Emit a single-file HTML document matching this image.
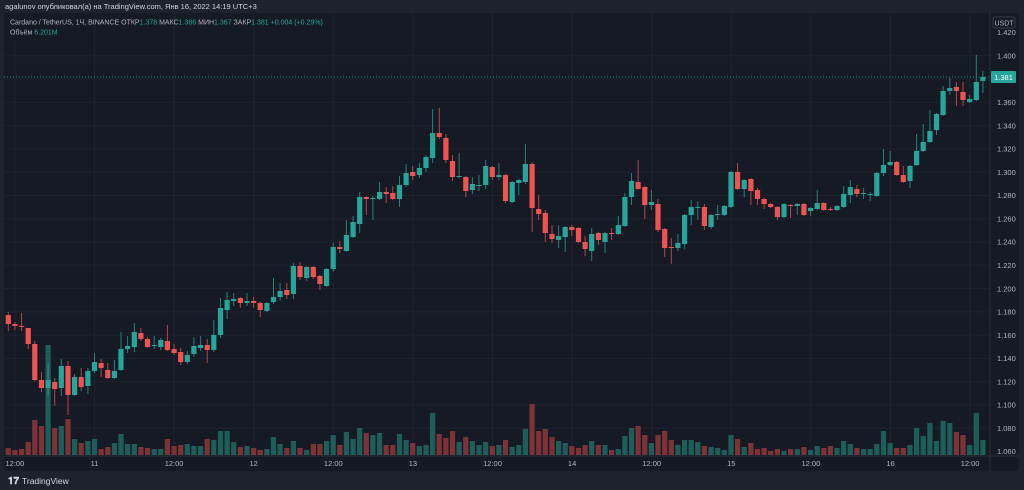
<!DOCTYPE html>
<html><head><meta charset="utf-8">
<style>
html,body{margin:0;padding:0;background:#1e222d;width:1024px;height:490px;overflow:hidden;font-family:"Liberation Sans","DejaVu Sans",sans-serif;}
svg{display:block}
</style></head>
<body>
<svg id="s" width="1024" height="490" xmlns="http://www.w3.org/2000/svg" font-family="Liberation Sans, DejaVu Sans, sans-serif">
<rect x="0" y="0" width="1024" height="490" fill="#1e222d"/>
<rect x="4" y="13" width="1015" height="458" fill="#161a25"/>
<g id="grid"></g>
<g id="vol"></g>
<g id="cand"></g>
<line x1="4" y1="77" x2="990" y2="77" stroke="#26a69a" stroke-width="1" stroke-dasharray="1,2" opacity="0.8"/>
<line x1="990" y1="13" x2="990" y2="471" stroke="#2a2e39"/>
<line x1="4" y1="456" x2="1019" y2="456" stroke="#2a2e39"/>
<g id="axis" font-size="7.5" fill="#b2b5be"></g>
<rect x="993" y="17" width="22" height="11" rx="2" fill="#161a25" stroke="#363a45"/>
<text x="1004" y="25.5" font-size="7" fill="#b2b5be" text-anchor="middle">USDT</text>
<rect x="991" y="71" width="25" height="12" rx="1" fill="#26a69a"/>
<text x="1003.5" y="80" font-size="7.5" fill="#ffffff" text-anchor="middle">1.381</text>
<text x="5" y="9" font-size="7.5" fill="#d1d4dc">agalunov опубликовал(а) на TradingView.com, Янв 16, 2022 14:19 UTC+3</text>
<text x="10" y="24.5" font-size="7" fill="#b2b5be">Cardano / TetherUS, 1Ч, BINANCE  ОТКР<tspan fill="#26a69a">1.378</tspan>  МАКС<tspan fill="#26a69a">1.386</tspan>  МИН<tspan fill="#26a69a">1.367</tspan>  ЗАКР<tspan fill="#26a69a">1.381</tspan>  <tspan fill="#26a69a">+0.004 (+0.29%)</tspan></text>
<text x="10" y="34.5" font-size="7" fill="#b2b5be">Объём  <tspan fill="#26a69a">6.201M</tspan></text>
<text x="8" y="484" font-size="10" font-weight="bold" fill="#d1d4dc">𝟏𝟕</text>
<text x="22" y="484" font-size="8.5" fill="#d1d4dc">TradingView</text>
</svg>
<script>
var C="315,324,312,331,r|324,326,322,330,r|326,327,313,331,r|328,344,328,349,r|344,380,341,381,r|380,388,372,392,r|380,388,363,395,g|382,389,378,406,r|366,388,359,396,g|366,395,361,415,r|377,395,374,396,g|377,387,368,391,r|371,386,368,394,g|362,371,353,373,g|363,368,359,377,r|370,378,363,379,r|371,378,360,379,g|349,370,332,371,g|346,349,336,353,g|332,347,323,352,g|333,339,328,341,r|339,347,337,348,r|345,346,336,349,g|340,347,338,350,g|341,350,325,351,r|349,353,344,355,r|352,362,348,365,r|355,362,351,364,g|346,354,337,357,g|345,348,336,351,g|345,350,339,363,r|335,350,320,352,g|308,335,298,338,g|300,310,292,319,g|299,301,293,306,g|298,303,297,308,r|301,303,293,306,g|301,303,297,308,r|303,310,302,317,r|303,311,302,312,g|297,302,278,304,g|291,297,283,301,g|290,295,283,299,r|266,294,263,299,g|266,277,262,280,r|267,278,266,281,g|267,277,266,279,r|276,284,275,290,r|269,286,268,287,g|247,269,243,272,g|247,249,241,253,r|235,251,220,252,g|222,237,216,238,g|197,224,192,233,g|197,199,196,215,r|198,199,196,220,g|192,199,182,200,g|192,194,187,203,r|193,199,186,200,r|185,199,176,207,g|173,185,164,187,g|172,176,166,180,r|168,175,163,178,g|157,168,155,172,g|133,158,109,163,g|133,137,108,139,r|138,160,134,163,r|161,177,155,181,r|176,177,153,178,g|177,191,176,197,r|184,190,177,194,g|185,186,175,191,g|166,185,160,189,g|167,177,166,180,r|175,177,163,180,g|175,201,174,203,r|182,202,181,203,g|180,183,179,195,g|164,182,144,184,g|164,208,162,232,r|209,214,195,220,r|213,233,210,242,r|234,239,225,243,r|236,240,225,248,g|227,237,226,252,g|227,230,225,236,r|228,242,227,243,r|242,249,236,256,r|234,251,228,261,g|233,240,232,245,r|233,242,232,253,g|233,234,228,240,r|225,234,216,235,g|197,226,193,227,g|181,197,173,205,g|182,189,160,190,r|187,205,186,219,r|202,205,190,210,g|204,230,199,232,r|229,248,228,257,r|247,248,238,264,r|243,248,234,251,g|215,244,214,249,g|207,215,200,225,g|207,208,201,220,g|207,226,204,230,r|215,227,214,229,g|214,215,205,220,g|206,215,205,216,g|172,207,171,208,g|172,189,163,190,r|180,189,179,197,g|179,191,178,205,r|190,199,188,205,r|199,204,198,209,r|204,207,203,208,r|207,217,206,220,r|204,217,203,218,g|205,206,204,218,r|204,206,203,215,g|204,215,203,216,r|208,211,207,216,g|203,209,190,210,g|203,210,202,211,r|209,210,207,211,r|206,210,205,211,g|194,207,186,208,g|187,195,180,203,g|189,194,185,197,r|193,194,188,199,g|194,195,192,201,g|173,196,172,197,g|165,173,149,176,g|162,165,151,166,g|162,175,161,176,r|175,182,166,183,r|166,181,165,188,g|151,165,134,166,g|142,151,124,152,g|131,142,110,143,g|114,130,113,135,g|91,115,86,116,g|88,91,78,95,g|87,91,82,106,r|92,100,82,106,r|99,102,95,103,g|82,100,55,101,g|77,81,71,93,g".split("|");
var V=[7,5,6,13,35,29,110,27,29,36,16,12,14,16,6,8,12,21,11,11,8,7,6,6,16,9,10,11,9,9,16,15,24,24,13,8,9,7,5,6,18,11,7,14,7,5,11,11,14,20,10,23,16,27,22,20,22,10,10,21,15,12,9,10,42,21,17,24,13,18,14,10,13,9,10,15,8,10,26,51,24,26,18,14,12,9,7,10,14,10,10,5,6,19,27,29,20,12,20,24,15,10,15,15,13,9,8,7,5,20,16,8,12,6,7,4,6,4,6,6,8,5,9,7,9,7,14,11,7,6,6,11,24,12,7,7,10,27,19,32,14,34,32,23,20,10,42,15];
var g="",v="",c="",a="";
var prices=["1.420","1.400","1.380","1.360","1.340","1.320","1.300","1.280","1.260","1.240","1.220","1.200","1.180","1.160","1.140","1.120","1.100","1.080","1.060"];
for(var k=0;k<prices.length;k++){var y=32.5+k*23.28;
 if(k>0)g+='<line x1="4" x2="990" y1="'+y.toFixed(1)+'" y2="'+y.toFixed(1)+'" stroke="#1f2330"/>';
 a+='<text x="997" y="'+(y+2.7).toFixed(1)+'">'+prices[k]+'</text>';}
var tl=["12:00","11","12:00","12","12:00","13","12:00","14","12:00","15","12:00","16","12:00"];
for(var k=0;k<tl.length;k++){var x=14.9+79.6*k;
 g+='<line x1="'+x.toFixed(1)+'" x2="'+x.toFixed(1)+'" y1="13" y2="456" stroke="#1f2330"/>';
 a+='<text x="'+x.toFixed(1)+'" y="466" text-anchor="middle">'+tl[k]+'</text>';}
for(var i=0;i<C.length;i++){var p=C[i].split(",");var t=+p[0],b=+p[1],wt=+p[2],wb=+p[3],col=p[4]=="g";
 var x=8.3+6.63*i;
 var fc=col?"#26a69a":"#ef5350";
 var vc=col?"#1e5e5a":"#7d3236";
 var h=V[i];
 v+='<rect x="'+(x-2.6).toFixed(1)+'" y="'+(455-h)+'" width="5.2" height="'+h+'" fill="'+vc+'"/>';
 c+='<line x1="'+x.toFixed(1)+'" x2="'+x.toFixed(1)+'" y1="'+wt+'" y2="'+wb+'" stroke="'+fc+'" stroke-width="1" opacity="0.75"/>';
 var bh=Math.max(1,b-t);
 c+='<rect x="'+(x-2.6).toFixed(1)+'" y="'+t+'" width="5.2" height="'+bh+'" fill="'+fc+'"/>';}
document.getElementById("grid").innerHTML=g;
document.getElementById("vol").innerHTML=v;
document.getElementById("cand").innerHTML=c;
document.getElementById("axis").innerHTML=a;
</script>
</body></html>
